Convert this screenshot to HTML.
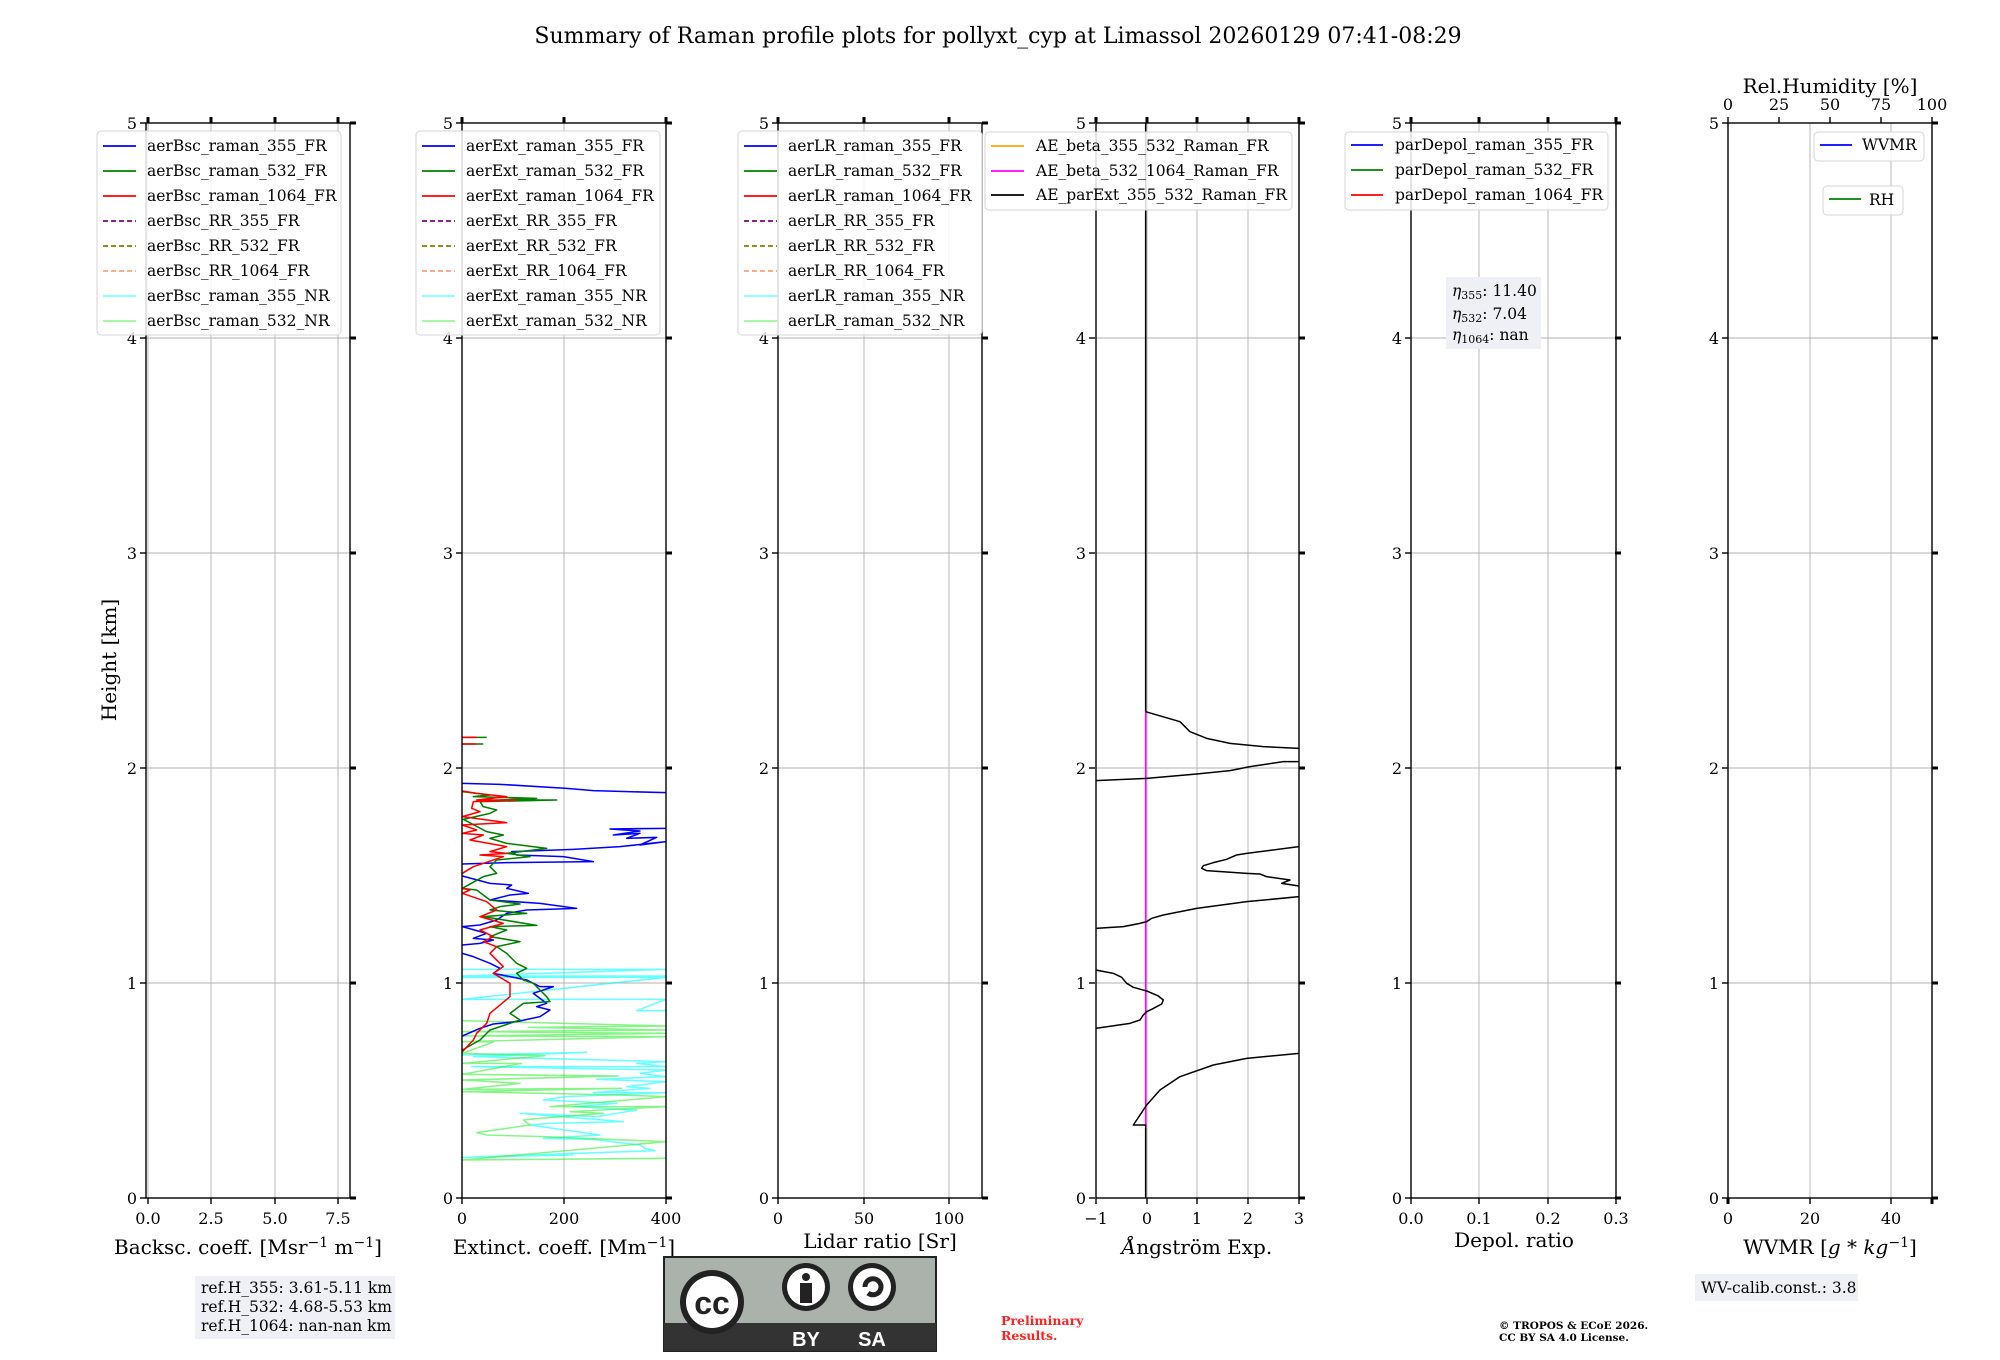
<!DOCTYPE html>
<html><head><meta charset="utf-8"><style>
html,body{margin:0;padding:0;background:#fff}
svg{display:block;font-family:"DejaVu Serif","Liberation Serif",serif}
.t{font-size:16px;fill:#000}
.lg{font-size:15.5px;fill:#000}
.al{font-size:20px;fill:#000}
.g{stroke:#b0b0b0;stroke-width:0.9}
.sp{stroke:#000;stroke-width:1.4;fill:none}
.tk{stroke:#000;stroke-width:1.4}
.tk2{stroke:#000;stroke-width:3}
.lgb{fill:#fff;fill-opacity:0.85;stroke:#d6d6d6;stroke-width:1}
</style></head><body>
<svg width="2000" height="1360" viewBox="0 0 2000 1360" xmlns="http://www.w3.org/2000/svg">
<text x="998" y="43" text-anchor="middle" style="font-size:22px">Summary of Raman profile plots for pollyxt_cyp at Limassol 20260129 07:41-08:29</text>

<g class="g">
<line x1="146" x2="350" y1="983" y2="983"/><line x1="146" x2="350" y1="768" y2="768"/><line x1="146" x2="350" y1="553" y2="553"/><line x1="146" x2="350" y1="338" y2="338"/>
<line x1="462" x2="666" y1="983" y2="983"/><line x1="462" x2="666" y1="768" y2="768"/><line x1="462" x2="666" y1="553" y2="553"/><line x1="462" x2="666" y1="338" y2="338"/>
<line x1="778" x2="982" y1="983" y2="983"/><line x1="778" x2="982" y1="768" y2="768"/><line x1="778" x2="982" y1="553" y2="553"/><line x1="778" x2="982" y1="338" y2="338"/>
<line x1="1096" x2="1299" y1="983" y2="983"/><line x1="1096" x2="1299" y1="768" y2="768"/><line x1="1096" x2="1299" y1="553" y2="553"/><line x1="1096" x2="1299" y1="338" y2="338"/>
<line x1="1411" x2="1616" y1="983" y2="983"/><line x1="1411" x2="1616" y1="768" y2="768"/><line x1="1411" x2="1616" y1="553" y2="553"/><line x1="1411" x2="1616" y1="338" y2="338"/>
<line x1="1728" x2="1932" y1="983" y2="983"/><line x1="1728" x2="1932" y1="768" y2="768"/><line x1="1728" x2="1932" y1="553" y2="553"/><line x1="1728" x2="1932" y1="338" y2="338"/>
<line x1="148" x2="148" y1="123" y2="1198"/><line x1="211" x2="211" y1="123" y2="1198"/><line x1="275" x2="275" y1="123" y2="1198"/><line x1="338" x2="338" y1="123" y2="1198"/>
<line x1="564" x2="564" y1="123" y2="1198"/>
<line x1="864" x2="864" y1="123" y2="1198"/><line x1="949" x2="949" y1="123" y2="1198"/>
<line x1="1147" x2="1147" y1="123" y2="1198"/><line x1="1197" x2="1197" y1="123" y2="1198"/><line x1="1248" x2="1248" y1="123" y2="1198"/>
<line x1="1479" x2="1479" y1="123" y2="1198"/><line x1="1548" x2="1548" y1="123" y2="1198"/>
<line x1="1810" x2="1810" y1="123" y2="1198"/><line x1="1891" x2="1891" y1="123" y2="1198"/>
</g>

<g transform="translate(440,720) scale(0.33333)" fill="none" stroke-width="4.6" stroke-linejoin="round">
<polyline stroke="#00ffff" stroke-opacity="0.6" points="67,748 678,748 67,768 678,768 67,772 678,772 67,838 678,838 590,872 678,872"/>
<polyline stroke="#00ffff" stroke-opacity="0.6" points="67,1005 440,997 100,1010 678,1025 590,1030 678,1040 95,1040 678,1050 600,1060 678,1070 470,1078 678,1085 560,1100 630,1105 460,1118 678,1118 380,1130 310,1140 530,1150 400,1160 590,1170 470,1190 240,1180 550,1205 330,1210 270,1215 480,1245 310,1255 460,1258 600,1275 615,1285 645,1292 67,1312 400,1305"/>
<polyline stroke="#33ee33" stroke-opacity="0.6" points="67,902 678,918 265,922 678,930 67,935 678,940 67,948 678,950 67,965 160,966 67,1000 315,1007 67,1030 245,1030 67,1063 535,1068 67,1080 240,1090 67,1108 545,1105 67,1115 540,1125 678,1130 330,1160 678,1160 390,1175 490,1180 300,1195 250,1200 270,1215 110,1238 140,1245 310,1250 678,1265 67,1320 678,1315"/>
<polyline stroke="#0000ff" points="67,190 180,193 380,205 460,212 678,218"/>
<polyline stroke="#0000ff" points="678,325 510,327 600,333 520,345 600,340 560,355 650,352 600,375 678,365 540,380 400,388 215,395 230,405 370,410 460,425 200,428 67,432"/>
<polyline stroke="#0000ff" points="67,468 150,490 215,495 200,505 265,520 210,525 150,540 300,550 410,565 260,570 200,580 170,600 120,615 67,620 140,640 100,655 160,660 120,670 67,675"/>
<polyline stroke="#0000ff" points="67,700 100,710 150,730 180,745 160,760 210,770 260,780 300,800 340,800 280,820 320,850 290,860 330,870 300,890 230,905 160,912 120,925 67,948"/>
<polyline stroke="#008000" points="67,52 140,52"/><polyline stroke="#008000" points="67,72 130,72"/>
<polyline stroke="#008000" points="67,215 150,225 100,230 290,235 180,240 350,240 120,245 130,260 170,270 150,280 70,298 140,335 190,345 150,355 200,370 320,385 200,400 270,410 170,420 150,440 170,460 130,470 67,505 110,510 150,540 240,552 180,560 150,570 260,580 130,590 290,616 150,620 200,630 150,650 240,665 170,680 200,700 230,730 260,745 230,760 250,780 280,790 300,810 320,830 330,845 250,850 210,880 240,900 150,930 120,960 67,990"/>
<polyline stroke="#ff0000" points="67,52 110,52"/><polyline stroke="#ff0000" points="67,72 110,72"/>
<polyline stroke="#ff0000" points="67,213 110,220 200,230 110,240 230,240 100,245 95,265 120,275 67,290 200,308 67,315 110,330 67,340 130,345 90,360 200,380 150,395 200,400 120,405 190,410 100,440 67,460"/>
<polyline stroke="#ff0000" points="67,505 90,510 67,520 140,545 170,570 120,590 190,610 120,630 160,650 130,665 170,680 150,700 190,740 160,760 210,790 210,830 150,880 140,910 110,940 100,960 67,995"/>
</g>

<g transform="translate(1080,700) scale(0.33333)" fill="none" stroke-width="4.5" stroke-linejoin="round">
<line x1="197" y1="-1731" x2="197" y2="35" stroke="#000"/>
<line x1="197" y1="35" x2="197" y2="1275" stroke="#ff00ff"/>
<polyline stroke="#000" points="197,1493 197,1275 160,1275 200,1215 240,1170 300,1130 400,1095 500,1075 657,1060"/>
<polyline stroke="#000" points="47,985 150,970 180,960 190,945 200,935 215,928 245,912 250,900 235,888 200,873 160,862 140,850 125,832 100,820 47,810"/>
<polyline stroke="#000" points="47,685 130,680 180,670 200,665 215,655 250,645 350,625 500,605 657,590"/>
<polyline stroke="#000" points="657,440 500,460 470,465 440,478 400,488 370,497 365,505 380,512 500,520 540,522 560,530 630,540 605,550 657,558"/>
<polyline stroke="#000" points="47,242 200,235 350,222 450,212 510,200 610,185 657,185"/>
<polyline stroke="#000" points="657,145 550,140 450,130 380,115 330,95 300,65 197,35"/>
</g>

<g class="sp">
<rect x="146" y="123" width="204" height="1075"/>
<rect x="462" y="123" width="204" height="1075"/>
<rect x="778" y="123" width="204" height="1075"/>
<rect x="1096" y="123" width="203" height="1075"/>
<rect x="1411" y="123" width="205" height="1075"/>
<rect x="1728" y="123" width="204" height="1075"/>
</g>

<g id="yt">
<g class="tk">
<line x1="140" x2="146" y1="1198" y2="1198"/><line x1="140" x2="146" y1="983" y2="983"/><line x1="140" x2="146" y1="768" y2="768"/><line x1="140" x2="146" y1="553" y2="553"/><line x1="140" x2="146" y1="338" y2="338"/><line x1="140" x2="146" y1="123" y2="123"/>
</g>
<g class="tk2">
<line x1="350" x2="356" y1="1198" y2="1198"/><line x1="350" x2="356" y1="983" y2="983"/><line x1="350" x2="356" y1="768" y2="768"/><line x1="350" x2="356" y1="553" y2="553"/><line x1="350" x2="356" y1="338" y2="338"/><line x1="350" x2="356" y1="123" y2="123"/>
</g>
<g class="t" text-anchor="end">
<text x="137" y="1204">0</text><text x="137" y="989">1</text><text x="137" y="774">2</text><text x="137" y="559">3</text><text x="137" y="344">4</text><text x="137" y="129">5</text>
</g>
</g>
<use href="#yt" x="316"/>
<use href="#yt" x="632"/>
<use href="#yt" x="949"/>
<use href="#yt" x="1265"/>
<use href="#yt" x="1582"/>

<g class="tk">
<line x1="148" x2="148" y1="1198" y2="1204"/><line x1="211" x2="211" y1="1198" y2="1204"/><line x1="275" x2="275" y1="1198" y2="1204"/><line x1="338" x2="338" y1="1198" y2="1204"/>
<line x1="462" x2="462" y1="1198" y2="1204"/><line x1="564" x2="564" y1="1198" y2="1204"/><line x1="666" x2="666" y1="1198" y2="1204"/>
<line x1="778" x2="778" y1="1198" y2="1204"/><line x1="864" x2="864" y1="1198" y2="1204"/><line x1="949" x2="949" y1="1198" y2="1204"/>
<line x1="1096" x2="1096" y1="1198" y2="1204"/><line x1="1147" x2="1147" y1="1198" y2="1204"/><line x1="1197" x2="1197" y1="1198" y2="1204"/><line x1="1248" x2="1248" y1="1198" y2="1204"/><line x1="1299" x2="1299" y1="1198" y2="1204"/>
<line x1="1411" x2="1411" y1="1198" y2="1204"/><line x1="1479" x2="1479" y1="1198" y2="1204"/><line x1="1548" x2="1548" y1="1198" y2="1204"/><line x1="1616" x2="1616" y1="1198" y2="1204"/>
<line x1="1728" x2="1728" y1="1198" y2="1204"/><line x1="1810" x2="1810" y1="1198" y2="1204"/><line x1="1891" x2="1891" y1="1198" y2="1204"/>
<line x1="1728" x2="1728" y1="117" y2="123"/><line x1="1779" x2="1779" y1="117" y2="123"/><line x1="1830" x2="1830" y1="117" y2="123"/><line x1="1881" x2="1881" y1="117" y2="123"/><line x1="1932" x2="1932" y1="117" y2="123"/>
</g>
<g class="tk2">
<line x1="148" x2="148" y1="117" y2="123"/><line x1="211" x2="211" y1="117" y2="123"/><line x1="275" x2="275" y1="117" y2="123"/><line x1="338" x2="338" y1="117" y2="123"/>
<line x1="462" x2="462" y1="117" y2="123"/><line x1="564" x2="564" y1="117" y2="123"/><line x1="666" x2="666" y1="117" y2="123"/>
<line x1="778" x2="778" y1="117" y2="123"/><line x1="864" x2="864" y1="117" y2="123"/><line x1="949" x2="949" y1="117" y2="123"/>
<line x1="1096" x2="1096" y1="117" y2="123"/><line x1="1147" x2="1147" y1="117" y2="123"/><line x1="1197" x2="1197" y1="117" y2="123"/><line x1="1248" x2="1248" y1="117" y2="123"/><line x1="1299" x2="1299" y1="117" y2="123"/>
<line x1="1411" x2="1411" y1="117" y2="123"/><line x1="1479" x2="1479" y1="117" y2="123"/><line x1="1548" x2="1548" y1="117" y2="123"/><line x1="1616" x2="1616" y1="117" y2="123"/>
<line x1="1728" x2="1728" y1="1198" y2="1204"/><line x1="1932" x2="1932" y1="1198" y2="1204"/>
</g>
<g class="t" text-anchor="middle">
<text x="148" y="1224">0.0</text><text x="211" y="1224">2.5</text><text x="275" y="1224">5.0</text><text x="338" y="1224">7.5</text>
<text x="462" y="1224">0</text><text x="564" y="1224">200</text><text x="666" y="1224">400</text>
<text x="778" y="1224">0</text><text x="864" y="1224">50</text><text x="949" y="1224">100</text>
<text x="1096" y="1224">−1</text><text x="1147" y="1224">0</text><text x="1197" y="1224">1</text><text x="1248" y="1224">2</text><text x="1299" y="1224">3</text>
<text x="1411" y="1224">0.0</text><text x="1479" y="1224">0.1</text><text x="1548" y="1224">0.2</text><text x="1616" y="1224">0.3</text>
<text x="1728" y="1224">0</text><text x="1810" y="1224">20</text><text x="1891" y="1224">40</text>
<text x="1728" y="110">0</text><text x="1779" y="110">25</text><text x="1830" y="110">50</text><text x="1881" y="110">75</text><text x="1932" y="110">100</text>
</g>
<g class="al" text-anchor="middle">
<text x="248" y="1254">Backsc. coeff. [Msr<tspan dy="-7" font-size="14">−1</tspan><tspan dy="7"> m</tspan><tspan dy="-7" font-size="14">−1</tspan><tspan dy="7">]</tspan></text>
<text x="564" y="1254">Extinct. coeff. [Mm<tspan dy="-7" font-size="14">−1</tspan><tspan dy="7">]</tspan></text>
<text x="880" y="1248">Lidar ratio [Sr]</text>
<text x="1197" y="1254"><tspan font-style="italic">Å</tspan>ngström Exp.</text>
<text x="1514" y="1247">Depol. ratio</text>
<text x="1830" y="1254">WVMR [<tspan font-style="italic">g</tspan> * <tspan font-style="italic">kg</tspan><tspan dy="-7" font-size="14">−1</tspan><tspan dy="7">]</tspan></text>
<text x="1830" y="93">Rel.Humidity [%]</text>
<text transform="translate(116,660) rotate(-90)">Height [km]</text>
</g>

<g id="leg8">
<rect class="lgb" x="97" y="131" width="244" height="204" rx="4"/>
<g stroke-width="1.8">
<line x1="103" x2="136" y1="146" y2="146" stroke="#0000ff"/>
<line x1="103" x2="136" y1="171" y2="171" stroke="#008000"/>
<line x1="103" x2="136" y1="196" y2="196" stroke="#ff0000"/>
<line x1="103" x2="136" y1="221" y2="221" stroke="#800080" stroke-dasharray="5,3"/>
<line x1="103" x2="136" y1="246" y2="246" stroke="#808000" stroke-dasharray="5,3"/>
<line x1="103" x2="136" y1="271" y2="271" stroke="#ffa07a" stroke-dasharray="5,3"/>
<line x1="103" x2="136" y1="296" y2="296" stroke="#00ffff" stroke-opacity="0.5"/>
<line x1="103" x2="136" y1="321" y2="321" stroke="#33ee33" stroke-opacity="0.5"/>
</g>
</g>
<g class="lg">
<text x="147" y="151">aerBsc_raman_355_FR</text><text x="147" y="176">aerBsc_raman_532_FR</text><text x="147" y="201">aerBsc_raman_1064_FR</text><text x="147" y="226">aerBsc_RR_355_FR</text><text x="147" y="251">aerBsc_RR_532_FR</text><text x="147" y="276">aerBsc_RR_1064_FR</text><text x="147" y="301">aerBsc_raman_355_NR</text><text x="147" y="326">aerBsc_raman_532_NR</text>
</g>
<use href="#leg8" x="319"/>
<g class="lg">
<text x="466" y="151">aerExt_raman_355_FR</text><text x="466" y="176">aerExt_raman_532_FR</text><text x="466" y="201">aerExt_raman_1064_FR</text><text x="466" y="226">aerExt_RR_355_FR</text><text x="466" y="251">aerExt_RR_532_FR</text><text x="466" y="276">aerExt_RR_1064_FR</text><text x="466" y="301">aerExt_raman_355_NR</text><text x="466" y="326">aerExt_raman_532_NR</text>
</g>
<use href="#leg8" x="641"/>
<g class="lg">
<text x="788" y="151">aerLR_raman_355_FR</text><text x="788" y="176">aerLR_raman_532_FR</text><text x="788" y="201">aerLR_raman_1064_FR</text><text x="788" y="226">aerLR_RR_355_FR</text><text x="788" y="251">aerLR_RR_532_FR</text><text x="788" y="276">aerLR_RR_1064_FR</text><text x="788" y="301">aerLR_raman_355_NR</text><text x="788" y="326">aerLR_raman_532_NR</text>
</g>

<rect class="lgb" x="985" y="132" width="307" height="78" rx="4"/>
<g stroke-width="1.8">
<line x1="991" x2="1024" y1="146" y2="146" stroke="#ffa500"/>
<line x1="991" x2="1024" y1="171" y2="171" stroke="#ff00ff"/>
<line x1="991" x2="1024" y1="195" y2="195" stroke="#000"/>
</g>
<g class="lg"><text x="1036" y="151">AE_beta_355_532_Raman_FR</text><text x="1036" y="176">AE_beta_532_1064_Raman_FR</text><text x="1036" y="200">AE_parExt_355_532_Raman_FR</text></g>

<rect class="lgb" x="1345" y="132" width="263" height="78" rx="4"/>
<g stroke-width="1.8">
<line x1="1351" x2="1383" y1="145" y2="145" stroke="#0000ff"/>
<line x1="1351" x2="1383" y1="170" y2="170" stroke="#008000"/>
<line x1="1351" x2="1383" y1="195" y2="195" stroke="#ff0000"/>
</g>
<g class="lg"><text x="1395" y="150">parDepol_raman_355_FR</text><text x="1395" y="175">parDepol_raman_532_FR</text><text x="1395" y="200">parDepol_raman_1064_FR</text></g>

<rect x="1446" y="277" width="95" height="72" fill="#eff0f5"/>
<g class="lg" font-size="15">
<text x="1452" y="296"><tspan font-style="italic">η</tspan><tspan font-size="11" dy="3">355</tspan><tspan dy="-3">: 11.40</tspan></text>
<text x="1452" y="319"><tspan font-style="italic">η</tspan><tspan font-size="11" dy="3">532</tspan><tspan dy="-3">: 7.04</tspan></text>
<text x="1452" y="340"><tspan font-style="italic">η</tspan><tspan font-size="11" dy="3">1064</tspan><tspan dy="-3">: nan</tspan></text>
</g>

<rect class="lgb" x="1814" y="132" width="110" height="29" rx="4"/>
<line x1="1820" x2="1852" y1="145" y2="145" stroke="#0000ff" stroke-width="1.8"/>
<text class="lg" x="1862" y="150">WVMR</text>
<rect class="lgb" x="1823" y="186" width="80" height="29" rx="4"/>
<line x1="1829" x2="1861" y1="199" y2="199" stroke="#008000" stroke-width="1.8"/>
<text class="lg" x="1869" y="205">RH</text>

<rect x="195" y="1276" width="200" height="63" fill="#eff0f5"/>
<g class="lg" font-size="15">
<text x="201" y="1293">ref.H_355: 3.61-5.11 km</text>
<text x="201" y="1312">ref.H_532: 4.68-5.53 km</text>
<text x="201" y="1331">ref.H_1064: nan-nan km</text>
</g>
<rect x="1695" y="1274" width="163" height="27" fill="#eff0f5"/>
<text class="lg" x="1701" y="1293" font-size="15">WV-calib.const.: 3.8</text>

<text x="1001" y="1325" fill="#ff2020" font-weight="bold" font-size="12.5">Preliminary</text>
<text x="1001" y="1340" fill="#ff2020" font-weight="bold" font-size="12.5">Results.</text>
<text x="1499" y="1329" font-weight="bold" font-size="10.5">© TROPOS &amp; ECoE 2026.</text>
<text x="1499" y="1341" font-weight="bold" font-size="10.5">CC BY SA 4.0 License.</text>

<g>
<rect x="664" y="1257" width="272" height="94" fill="#aab2ab" stroke="#222" stroke-width="2"/>
<rect x="664" y="1323" width="272" height="28" fill="#333"/>
<circle cx="712" cy="1302" r="40" fill="#aab2ab"/>
<rect x="664" y="1323" width="110" height="28" fill="#333"/>
<circle cx="712" cy="1302" r="32" fill="#222"/>
<circle cx="712" cy="1302" r="26" fill="#fff"/>
<text x="712" y="1314" text-anchor="middle" font-family="Liberation Sans,sans-serif" font-weight="bold" font-size="32" fill="#222">cc</text>
<circle cx="806" cy="1287" r="24" fill="#222"/>
<circle cx="806" cy="1287" r="19" fill="#fff"/>
<circle cx="806" cy="1277" r="4" fill="#222"/>
<rect x="800" y="1283" width="12" height="20" fill="#222"/>
<circle cx="872" cy="1287" r="24" fill="#222"/>
<circle cx="872" cy="1287" r="19" fill="#fff"/>
<path d="M865,1287 a8,8 0 1,1 3,6" fill="none" stroke="#222" stroke-width="5"/>
<text x="806" y="1346" text-anchor="middle" font-family="Liberation Sans,sans-serif" font-weight="bold" font-size="20" fill="#fff">BY</text>
<text x="872" y="1346" text-anchor="middle" font-family="Liberation Sans,sans-serif" font-weight="bold" font-size="20" fill="#fff">SA</text>
</g>
</svg>
</body></html>
